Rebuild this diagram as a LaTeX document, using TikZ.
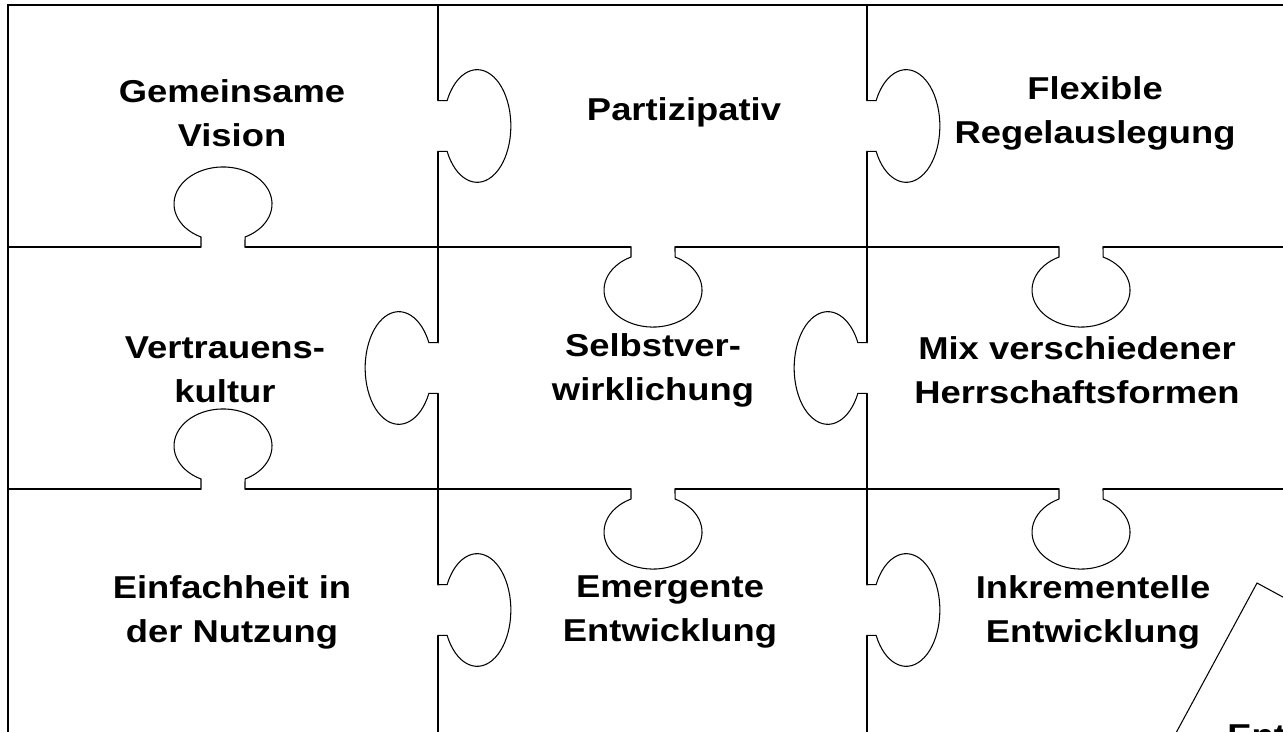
\documentclass[tikz,border=0pt]{standalone}
\usepackage{fontspec}
\newfontfamily\puzzlefont[FakeStretch=1.15]{Liberation Sans}

\tikzset{
  grid line/.style={line width=0.6pt},
  piece text/.style={font=\puzzlefont\bfseries\fontsize{18}{25}\selectfont, align=center},
  knob up/.style={x={(0.02cm,0)}, y={(0,0.02cm)}},
  knob down/.style={x={(0.02cm,0)}, y={(0,-0.02cm)}},
  knob left/.style={x={(0,0.023cm)}, y={(-0.0182cm,0)}},
  knob right/.style={x={(0,0.023cm)}, y={(0.0182cm,0)}},
}

% #1 = neck point on the line, #2 = direction
\newcommand{\knob}[2]{%
  \begin{scope}[shift={#1}, #2]
    \fill[white] (-22,-1.5) -- (-22,10) arc[start angle=243.3, end angle=-63.3, x radius=49, y radius=37] -- (22,-1.5) -- cycle;
    \draw[grid line] (-28,0) -- (-22,0) -- (-22,10) arc[start angle=243.3, end angle=-63.3, x radius=49, y radius=37] -- (22,0) -- (28,0);
  \end{scope}}

\begin{document}
\begin{tikzpicture}[x=0.02cm, y=-0.02cm]
\useasboundingbox (0,0) rectangle (1283,731);
\clip (0,0) rectangle (1283,731);

% grid
\draw[grid line] (1290,5) -- (8,5) -- (8,740);
\draw[grid line] (438,5) -- (438,740);
\draw[grid line] (867,5) -- (867,740);
\draw[grid line] (8,247) -- (1290,247);
\draw[grid line] (8,489) -- (1290,489);

% knobs
\knob{(223,247)}{knob up}
\knob{(653,247)}{knob down}
\knob{(1081,247)}{knob down}
\knob{(223,489)}{knob up}
\knob{(653,489)}{knob down}
\knob{(1081,489)}{knob down}
\knob{(438,126)}{knob right}
\knob{(867,126)}{knob right}
\knob{(438,368)}{knob left}
\knob{(867,368)}{knob left}
\knob{(438,610)}{knob right}
\knob{(867,610)}{knob right}

% next piece, turned
\coordinate (c1) at (1257,583);
\draw[grid line] (1170,744) -- (c1) -- (1305,609);

% texts
\node[piece text] (vision) at (232,113) {Gemeinsame\\Vision};
\node[piece text] (partizipativ) at (684,112) {Partizipativ};
\node[piece text] (regeln) at (1095,113) {Flexible\\Regelauslegung};
\node[piece text] (vertrauen) at (225,370) {Vertrauens-\\kultur};
\node[piece text] (selbst) at (653,370) {Selbstver-\\wirklichung};
\node[piece text] (mix) at (1077,370) {Mix verschiedener\\Herrschaftsformen};
\node[piece text] (einfach) at (232,612) {Einfachheit in\\der Nutzung};
\node[piece text] (emergent) at (670,612) {Emergente\\Entwicklung};
\node[piece text] (inkrement) at (1093,612) {Inkrementelle\\Entwicklung};
\node[piece text, anchor=base west, inner sep=0pt] (ent) at (1227,746) {Ent};
\end{tikzpicture}
\end{document}
